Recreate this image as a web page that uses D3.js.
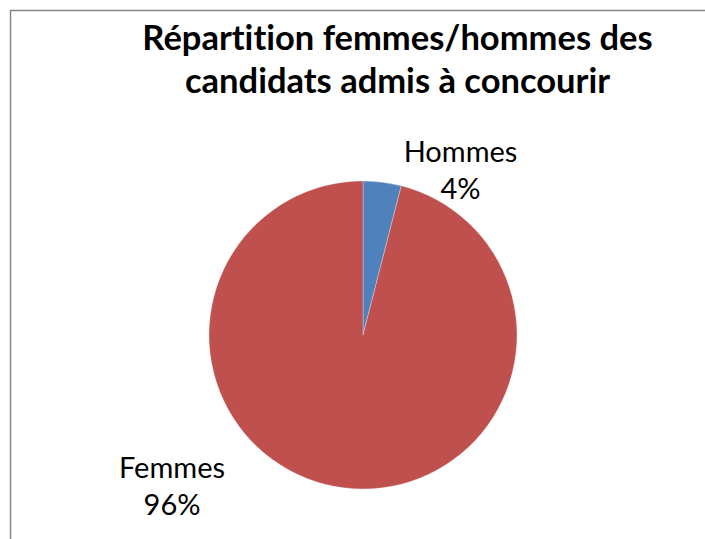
<!DOCTYPE html>
<html>
<head>
<meta charset="utf-8">
<script src="https://cdn.jsdelivr.net/npm/d3@7"></script>
<style>
  body { margin: 0; background: #fff; }
  text { font-family: Lato, "Noto Sans", sans-serif; fill: #000; font-variant-ligatures: none; }
</style>
</head>
<body>
<svg id="chart" width="705" height="539"></svg>
<script>
// chart data
var categories = ["Hommes", "Femmes"];
var values = [4, 96];
var percentLabels = ["4%", "96%"];
var colors = ["#4F81BD", "#C0504D"];
var titleLines = ["Répartition femmes/hommes des", "candidats admis à concourir"];

var width = 705, height = 539;
var cx = 363, cy = 335, radius = 154;

var svg = d3.select("#chart");

// chart area border (runs off the right and bottom edges)
svg.append("rect")
    .attr("x", 10.5)
    .attr("y", 10.5)
    .attr("width", 760)
    .attr("height", 600)
    .attr("fill", "none")
    .attr("stroke", "#868686")
    .attr("stroke-width", 1.5);

// title
svg.append("g")
    .attr("class", "title")
    .selectAll("text")
    .data(titleLines)
    .enter().append("text")
    .attr("x", 397.5)
    .attr("y", function (d, i) { return 50 + i * 43; })
    .attr("text-anchor", "middle")
    .attr("font-size", "34.5px")
    .attr("font-weight", "bold")
    .text(function (d) { return d; });

var color = d3.scaleOrdinal()
    .domain(categories)
    .range(colors);

var pie = d3.pie()
    .sort(null)
    .value(function (d) { return d.value; });

var arc = d3.arc()
    .innerRadius(0)
    .outerRadius(radius);

var slices = categories.map(function (c, i) {
    return { name: c, value: values[i], label: percentLabels[i] };
});

var g = svg.append("g")
    .attr("transform", "translate(" + cx + "," + cy + ")");

g.selectAll("path")
    .data(pie(slices))
    .enter().append("path")
    .attr("d", arc)
    .attr("fill", function (d) { return color(d.data.name); })
    .attr("stroke", "#ffffff")
    .attr("stroke-width", 0.5)
    .attr("stroke-opacity", 0.6);

// data labels, positioned as in the original chart
var labelPos = {
    Hommes: [460.5, 162],
    Femmes: [172, 478]
};

var labels = svg.append("g").attr("class", "labels")
    .selectAll("g")
    .data(pie(slices))
    .enter().append("g")
    .attr("transform", function (d) {
        var p = labelPos[d.data.name];
        return "translate(" + p[0] + "," + p[1] + ")";
    });

labels.append("text")
    .attr("text-anchor", "middle")
    .attr("font-size", "29px")
    .text(function (d) { return d.data.name; });

labels.append("text")
    .attr("text-anchor", "middle")
    .attr("y", 37)
    .attr("font-size", "29px")
    .text(function (d) { return d.data.label; });
</script>
</body>
</html>
